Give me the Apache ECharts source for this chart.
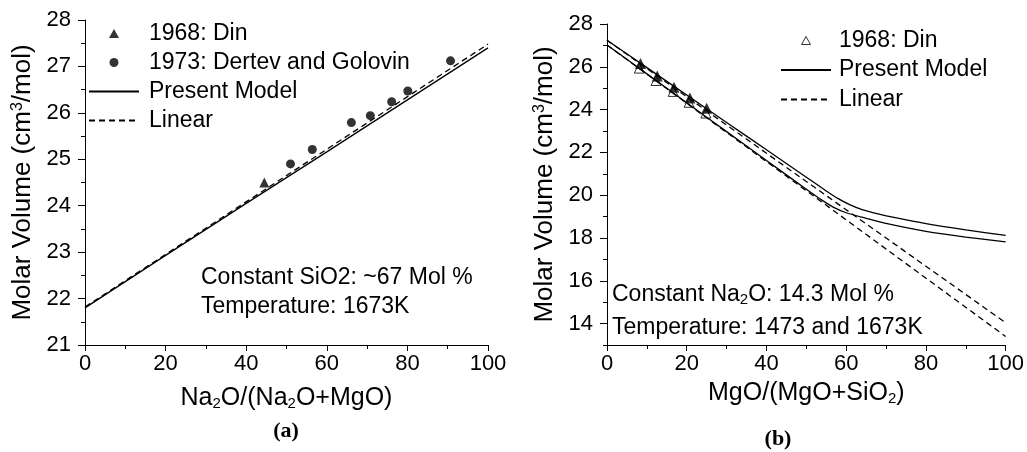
<!DOCTYPE html>
<html>
<head>
<meta charset="utf-8">
<script src="https://cdn.jsdelivr.net/npm/echarts@6/dist/echarts.min.js"></script>
<style>html,body{margin:0;padding:0;background:#fff;}#c{width:1027px;height:452px;}</style>
</head>
<body>
<div id="c"></div>
<script>
// ---- Panel (a) data ----
const aXTicks = [0, 20, 40, 60, 80, 100];
const aYTicks = [21, 22, 23, 24, 25, 26, 27, 28];
const aDin = [[44.5, 24.50]];
const aDertev = [[51.0, 24.90], [56.4, 25.21], [66.1, 25.79], [70.8, 25.94], [76.1, 26.24], [80.1, 26.47], [90.7, 27.12]];
const aModel = [[0, 21.80], [20, 22.93], [40, 24.05], [60, 25.16], [80, 26.28], [100, 27.40]];
const aLinear = [[0, 21.82], [100, 27.48]];

// ---- Panel (b) data ----
const bXTicks = [0, 20, 40, 60, 80, 100];
const bYTicks = [14, 16, 18, 20, 22, 24, 26, 28];
const bYMinorTicks = [13, 15, 17, 19, 21, 23, 25, 27];
const bDinFilled = [[8.4, 26.15], [12.6, 25.57], [16.8, 25.05], [20.8, 24.54], [25.0, 24.06]];
const bDinOpen = [[8.1, 25.94], [12.3, 25.36], [16.6, 24.85], [20.6, 24.34], [24.8, 23.84]];
const bModelHigh = [[0, 27.24], [10, 25.96], [20, 24.68], [30, 23.40], [40, 22.12], [50, 20.84], [55, 20.20], [58, 19.84], [61, 19.55], [64, 19.33], [68, 19.13], [72, 18.96], [80, 18.67], [90, 18.38], [100, 18.12]];
const bModelLow = [[0, 27.02], [10, 25.67], [20, 24.32], [30, 22.97], [40, 21.62], [50, 20.28], [54, 19.76], [57, 19.42], [60, 19.18], [64, 18.97], [70, 18.68], [80, 18.31], [90, 18.04], [100, 17.82]];
const bLinearHigh = [[0, 27.24], [100, 14.04]];
const bLinearLow = [[0, 27.02], [100, 13.40]];

const FONT = 'Liberation Sans';
const black = '#000';
const TRI = 'path://M5,0L10,9L0,9Z';
const rich = {
  sub: { fontSize: 15, lineHeight: 8, verticalAlign: 'bottom', fontFamily: FONT, color: black },
  sup: { fontSize: 16, lineHeight: 8, verticalAlign: 'top', fontFamily: FONT, color: black }
};
const gRich = {
  sub: { fontSize: 15, lineHeight: 6, verticalAlign: 'bottom', fontFamily: FONT, fill: black }
};

function xAxisCfg(grid, name, gap) {
  return {
    gridIndex: grid, type: 'value', min: 0, max: 100, interval: 20,
    axisLine: { onZero: false, lineStyle: { color: black, width: 1 } },
    axisTick: { length: 6, lineStyle: { color: black } },
    minorTick: { show: true, splitNumber: 2, length: 4, lineStyle: { color: black } },
    splitLine: { show: false },
    axisLabel: { color: black, fontSize: 22, fontFamily: FONT, margin: 8 },
    name: name, nameLocation: 'middle', nameGap: gap,
    nameTextStyle: { color: black, fontSize: 25, fontFamily: FONT, lineHeight: 26, rich: rich }
  };
}

const yName = 'Molar Volume (cm{sup|3}/mol)';
const yNameStyle = { color: black, fontSize: 26, fontFamily: FONT, lineHeight: 26, rich: rich };

const legendText = { color: black, fontSize: 23, fontFamily: FONT, lineHeight: 22 };
const hideSym = { opacity: 0 };

const option = {
  animation: false,
  backgroundColor: '#fff',
  textStyle: { fontFamily: FONT },
  grid: [
    { left: 85, right: 539, top: 20, bottom: 107 },
    { left: 607, right: 21, top: 24, bottom: 107 }
  ],
  xAxis: [
    xAxisCfg(0, 'Na{sub|2}O/(Na{sub|2}O+MgO)', 40),
    xAxisCfg(1, 'MgO/(MgO+SiO{sub|2})', 32)
  ],
  yAxis: [
    {
      gridIndex: 0, type: 'value', min: 21, max: 28, interval: 1, position: 'left',
      axisLine: { show: true, onZero: false, lineStyle: { color: black } },
      axisTick: { show: true, length: 7, lineStyle: { color: black } },
      minorTick: { show: true, splitNumber: 2, length: 4, lineStyle: { color: black } },
      splitLine: { show: false },
      axisLabel: { color: black, fontSize: 22, fontFamily: FONT, margin: 14 },
      name: yName, nameLocation: 'middle', nameRotate: 90, nameGap: 49, nameTextStyle: yNameStyle
    },
    {
      gridIndex: 1, type: 'value', min: 13, max: 28, position: 'left',
      axisLine: { show: true, onZero: false, lineStyle: { color: black } },
      axisTick: { show: true, length: 7, lineStyle: { color: black }, customValues: bYTicks },
      splitLine: { show: false },
      axisLabel: { color: black, fontSize: 22, fontFamily: FONT, margin: 14, customValues: bYTicks },
      name: yName, nameLocation: 'middle', nameRotate: 90, nameGap: 49, nameTextStyle: yNameStyle
    },
    {
      gridIndex: 1, type: 'value', min: 13, max: 28, position: 'left',
      axisLine: { show: false },
      axisTick: { show: true, length: 4, lineStyle: { color: black }, customValues: bYMinorTicks },
      splitLine: { show: false },
      axisLabel: { show: false }
    }
  ],
  legend: [
    {
      orient: 'vertical', left: 88, top: 22, padding: 0, itemWidth: 50, itemHeight: 9, itemGap: 6,
      symbolKeepAspect: true,
      textStyle: Object.assign({ padding: [0, 0, 0, 5] }, legendText),
      selectedMode: false,
      data: [
        { name: '1968: Din', icon: TRI, itemStyle: { color: black, borderWidth: 0 } },
        { name: '1973: Dertev and Golovin', icon: 'circle', itemStyle: { color: black, borderWidth: 0 } },
        { name: 'Present Model', itemStyle: hideSym },
        { name: 'Linear', itemStyle: hideSym }
      ]
    },
    {
      orient: 'vertical', left: 780, top: 29, padding: 0, itemWidth: 50, itemHeight: 8, itemGap: 6.5,
      symbolKeepAspect: true,
      textStyle: Object.assign({ padding: [0, 0, 0, 3] }, legendText),
      selectedMode: false,
      data: [
        { name: '1968: Din', icon: TRI, itemStyle: { color: '#fff', borderColor: black, borderWidth: 1 } },
        { name: 'Present Model', itemStyle: hideSym },
        { name: 'Linear', itemStyle: hideSym }
      ]
    }
  ],
  graphic: [
    { type: 'text', x: 201, y: 278, style: { text: 'Constant SiO2: ~67 Mol %', fontSize: 23, fontFamily: FONT, fill: black, verticalAlign: 'middle' } },
    { type: 'text', x: 201, y: 307, style: { text: 'Temperature: 1673K', fontSize: 23, fontFamily: FONT, fill: black, verticalAlign: 'middle' } },
    { type: 'text', x: 612, y: 295, style: { text: 'Constant Na{sub|2}O: 14.3 Mol %', fontSize: 23, fontFamily: FONT, lineHeight: 24, fill: black, verticalAlign: 'middle', rich: gRich } },
    { type: 'text', x: 612, y: 328, style: { text: 'Temperature: 1473 and 1673K', fontSize: 23, fontFamily: FONT, fill: black, verticalAlign: 'middle' } },
    { type: 'text', x: 286, y: 431, style: { text: '(a)', fontSize: 22, fontWeight: 'bold', fontFamily: 'Liberation Serif', fill: black, align: 'center', verticalAlign: 'middle' } },
    { type: 'text', x: 778, y: 439, style: { text: '(b)', fontSize: 22, fontWeight: 'bold', fontFamily: 'Liberation Serif', fill: black, align: 'center', verticalAlign: 'middle' } }
  ],
  series: [
    // panel (a)
    { name: 'Present Model', type: 'line', xAxisIndex: 0, yAxisIndex: 0, data: aModel, symbol: 'none', itemStyle: { color: black }, lineStyle: { color: black, width: 1.3 } },
    { name: 'Linear', type: 'line', xAxisIndex: 0, yAxisIndex: 0, data: aLinear, symbol: 'none', itemStyle: { color: black }, lineStyle: { color: black, width: 1.3, type: [6, 4] } },
    { name: '1968: Din', type: 'scatter', xAxisIndex: 0, yAxisIndex: 0, data: aDin, symbol: 'triangle', symbolSize: 10, itemStyle: { color: black } },
    { name: '1973: Dertev and Golovin', type: 'scatter', xAxisIndex: 0, yAxisIndex: 0, data: aDertev, symbol: 'circle', symbolSize: 9, itemStyle: { color: black } },
    // panel (b)
    { name: '1968: Din', type: 'scatter', xAxisIndex: 1, yAxisIndex: 1, data: bDinOpen, symbol: 'triangle', symbolSize: 10, itemStyle: { color: '#fff', borderColor: black, borderWidth: 1 } },
    { name: 'Present Model', type: 'line', xAxisIndex: 1, yAxisIndex: 1, data: bModelHigh, symbol: 'none', smooth: 0.2, itemStyle: { color: black }, lineStyle: { color: black, width: 1.3 } },
    { name: 'Present Model', type: 'line', xAxisIndex: 1, yAxisIndex: 1, data: bModelLow, symbol: 'none', smooth: 0.2, itemStyle: { color: black }, lineStyle: { color: black, width: 1.3 } },
    { name: 'Linear', type: 'line', xAxisIndex: 1, yAxisIndex: 1, data: bLinearHigh, symbol: 'none', itemStyle: { color: black }, lineStyle: { color: black, width: 1.3, type: [6, 4] } },
    { name: 'Linear', type: 'line', xAxisIndex: 1, yAxisIndex: 1, data: bLinearLow, symbol: 'none', itemStyle: { color: black }, lineStyle: { color: black, width: 1.3, type: [6, 4] } },
    { name: 'DinFilled', type: 'scatter', xAxisIndex: 1, yAxisIndex: 1, data: bDinFilled, symbol: 'triangle', symbolSize: 11, itemStyle: { color: black } }
  ]
};

const chart = echarts.init(document.getElementById('c'), null, { renderer: 'canvas' });
chart.setOption(option);
</script>
</body>
</html>
